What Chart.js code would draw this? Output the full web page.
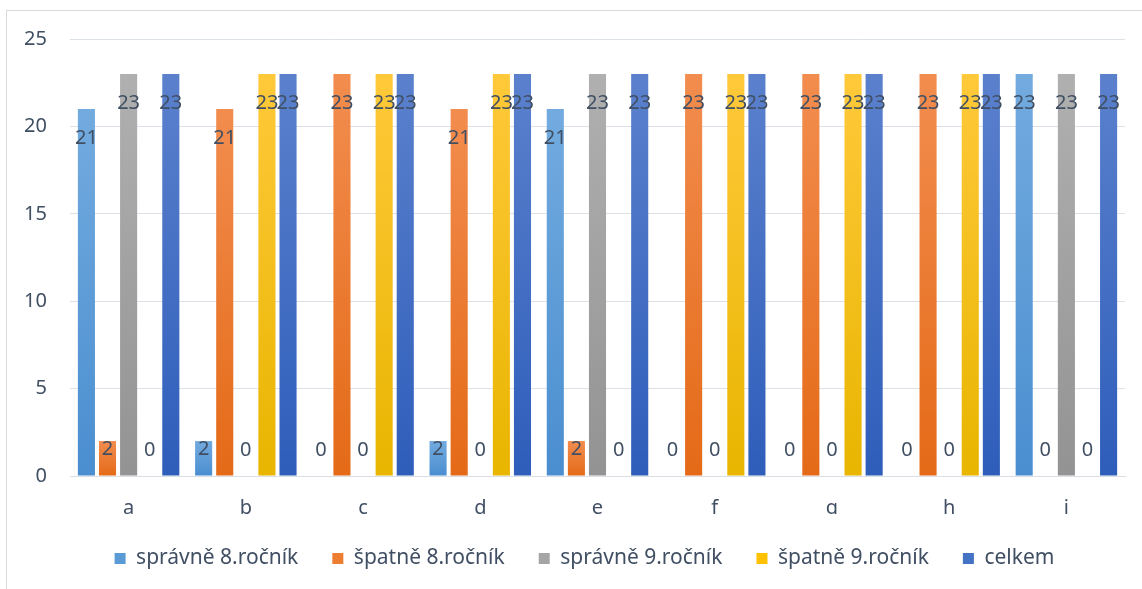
<!DOCTYPE html>
<html>
<head>
<meta charset="utf-8">
<script src="https://cdn.jsdelivr.net/npm/chart.js@4/dist/chart.umd.min.js"></script>
<style>
  html, body { margin: 0; padding: 0; background: #fff; overflow: hidden; }
  #frame { position: absolute; left: 6px; top: 10px; width: 2000px; height: 2000px;
           border-top: 1px solid #d9d9d9; border-left: 1px solid #d9d9d9; }
  #wrap { position: absolute; left: 0; top: 0; width: 1142px; height: 589px; }
</style>
</head>
<body>
<div id="frame"></div>
<div id="wrap"><canvas id="chart1" width="1142" height="589"></canvas></div>
<script>
// categories
var labels = ['a', 'b', 'c', 'd', 'e', 'f', 'g', 'h', 'i'];
// series names
var seriesNames = ['správně 8.ročník', 'špatně 8.ročník', 'správně 9.ročník', 'špatně 9.ročník', 'celkem'];
// values
var spravne8 = [21, 2, 0, 2, 21, 0, 0, 0, 23];
var spatne8  = [2, 21, 23, 21, 2, 23, 23, 23, 0];
var spravne9 = [23, 0, 0, 0, 23, 0, 0, 0, 23];
var spatne9  = [0, 23, 23, 23, 0, 23, 23, 23, 0];
var celkem   = [23, 23, 23, 23, 23, 23, 23, 23, 23];
var yTicks = [0, 5, 10, 15, 20, 25];

var legendColors = ['#5b9bd5', '#ed7d31', '#a5a5a5', '#ffc000', '#4472c4'];
var topColors    = ['#73abdf', '#f28d4f', '#b0b0b0', '#ffc93a', '#5b81cd'];
var bottomColors = ['#4a8ed0', '#e46a17', '#939393', '#e8b500', '#2e5dba'];
var textColor = '#404f63';
var fontFam = '"Noto Sans", Lato, sans-serif';

// gradient per bar, lighter on top
function barFill(i) {
    return function (ctx) {
        var chart = ctx.chart;
        if (ctx.type !== 'data' || !chart.chartArea) return legendColors[i];
        var y = chart.scales.y;
        var top = y.getPixelForValue(ctx.raw);
        var base = y.getPixelForValue(0);
        if (Math.abs(base - top) < 1) return bottomColors[i];
        var g = chart.ctx.createLinearGradient(0, top, 0, base);
        g.addColorStop(0, topColors[i]);
        g.addColorStop(1, bottomColors[i]);
        return g;
    };
}

var allData = [spravne8, spatne8, spravne9, spatne9, celkem];
var datasets = [];
for (var i = 0; i < allData.length; i++) {
    datasets.push({
        label: seriesNames[i],
        data: allData[i],
        backgroundColor: barFill(i),
        borderWidth: 0,
        categoryPercentage: 0.9,
        barPercentage: 0.81
    });
}

// value labels inside the bars
var valueLabels = {
    id: 'valueLabels',
    afterDatasetsDraw: function (chart) {
        var c = chart.ctx;
        c.save();
        c.font = '20px ' + fontFam;
        c.fillStyle = textColor;
        c.textAlign = 'center';
        c.textBaseline = 'middle';
        chart.data.datasets.forEach(function (ds, di) {
            var meta = chart.getDatasetMeta(di);
            meta.data.forEach(function (el, j) {
                var ty = Math.min(el.y + 29, el.base - 26);
                c.fillText(String(ds.data[j]), el.x, ty);
            });
        });
        c.restore();
    }
};

// legend sits a bit right of centre in the original
var legendShift = {
    id: 'legendShift',
    afterLayout: function (chart) {
        if (chart.legend) {
            chart.legend.left += 22;
            chart.legend.right += 22;
        }
    }
};

const config = {
    type: 'bar',
    data: { labels: labels, datasets: datasets },
    options: {
        responsive: false,
        animation: false,
        layout: { padding: { left: 0, right: 17, top: 39, bottom: 10 } },
        scales: {
            y: {
                min: 0,
                max: 25,
                afterBuildTicks: function (scale) {
                    scale.ticks = yTicks.map(function (v) { return { value: v }; });
                },
                afterFit: function (scale) { scale.width = 70; },
                border: { display: false },
                grid: { color: '#dce1e8', lineWidth: 1, drawTicks: false },
                ticks: { padding: 23, color: textColor, font: { size: 20, family: fontFam } }
            },
            x: {
                afterFit: function (scale) { scale.height = 38; },
                border: { display: true, color: '#d9dee5', width: 1 },
                grid: { display: false, drawTicks: false },
                ticks: { padding: 20, color: textColor, font: { size: 20, family: fontFam } }
            }
        },
        plugins: {
            tooltip: { enabled: false },
            legend: {
                position: 'bottom',
                labels: {
                    boxWidth: 11,
                    boxHeight: 11,
                    padding: 34,
                    color: textColor,
                    font: { size: 21, family: fontFam },
                    generateLabels: function (chart) {
                        return seriesNames.map(function (name, k) {
                            return {
                                text: name,
                                fillStyle: legendColors[k],
                                strokeStyle: legendColors[k],
                                lineWidth: 0,
                                hidden: false,
                                datasetIndex: k,
                                fontColor: textColor
                            };
                        });
                    }
                }
            }
        }
    },
    plugins: [valueLabels, legendShift]
};

const chart1 = new Chart(document.getElementById('chart1'), config);
</script>
</body>
</html>
